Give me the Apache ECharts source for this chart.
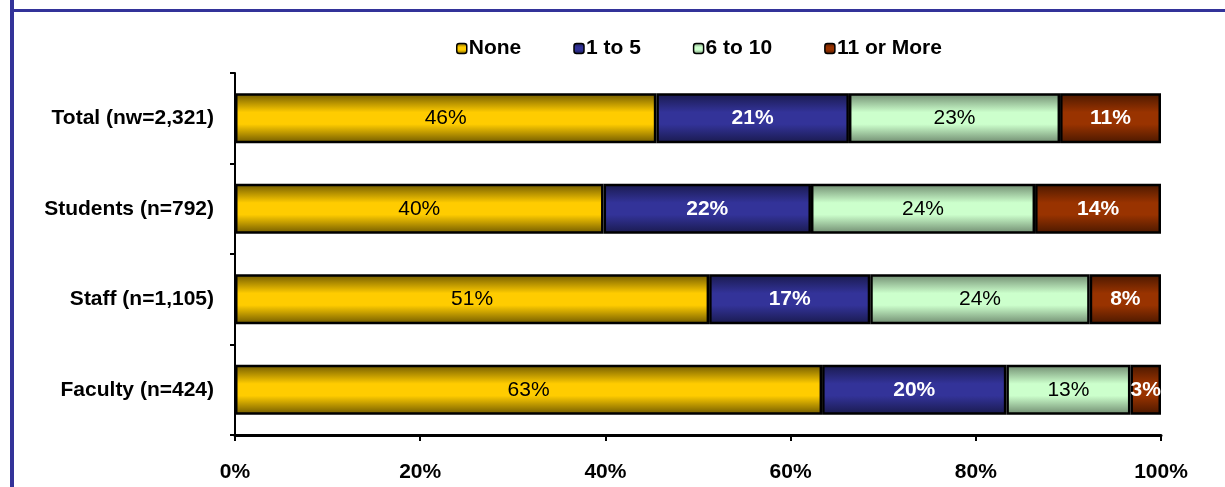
<!DOCTYPE html>
<html>
<head>
<meta charset="utf-8">
<script src="https://cdn.jsdelivr.net/npm/echarts@6/dist/echarts.min.js"></script>
<style>
  html, body { margin: 0; padding: 0; background: #fff; }
  #chart { width: 1225px; height: 487px; }
</style>
</head>
<body>
<div id="chart"></div>
<script>
// groups, top to bottom
const categories = ['Total (nw=2,321)', 'Students (n=792)', 'Staff (n=1,105)', 'Faculty (n=424)'];
// shares in percent
const none = [45.5, 39.8, 51.2, 63.4];
const oneToFive = [20.8, 22.4, 17.4, 19.9];
const sixToTen = [22.8, 24.2, 23.7, 13.4];
const elevenOrMore = [10.9, 13.6, 7.7, 3.3];
const seriesNames = ['None', '1 to 5', '6 to 10', '11 or More'];
const xTicks = [0, 20, 40, 60, 80, 100];

const font = "'Liberation Sans', Arial, sans-serif";

// dark edges, bright middle, like the old office gradient fill
function shade(dark, light){
  return new echarts.graphic.LinearGradient(0, 0, 0, 1, [
    {offset: 0, color: dark},
    {offset: 0.38, color: light},
    {offset: 0.62, color: light},
    {offset: 1, color: dark}
  ]);
}

function makeSeries(name, data, dark, light, textColor, weight){
  return {
    name: name,
    type: 'bar',
    stack: 'all',
    barWidth: '55%',
    data: data,
    itemStyle: {color: shade(dark, light), borderColor: '#000', borderWidth: 2.5},
    label: {
      show: true,
      position: 'inside',
      color: textColor,
      fontFamily: font,
      fontSize: 21,
      fontWeight: weight,
      formatter: p => Math.round(p.value) + '%'
    }
  };
}

const chart = echarts.init(document.getElementById('chart'));
chart.setOption({
  animation: false,
  backgroundColor: '#fff',
  grid: {left: 235, right: 64, top: 73, bottom: 52, outerBoundsMode: 'none'},
  legend: {
    top: 33,
    left: 451,
    itemWidth: 10,
    itemHeight: 10,
    itemGap: 52,
    textStyle: {fontFamily: font, fontWeight: 'bold', fontSize: 21, color: '#000', padding: [0, 0, 0, -3]},
    data: seriesNames.map(n => ({name: n, itemStyle: {borderColor: '#000', borderWidth: 1.5}}))
  },
  xAxis: {
    type: 'value',
    min: 0,
    max: 100,
    interval: 20,
    axisLine: {show: true, lineStyle: {color: '#000', width: 3}},
    axisTick: {show: true, length: 6, lineStyle: {color: '#000', width: 2}},
    splitLine: {show: false},
    axisLabel: {
      margin: 27,
      fontFamily: font,
      fontWeight: 'bold',
      fontSize: 21,
      color: '#000',
      customValues: xTicks,
      formatter: '{value}%'
    }
  },
  yAxis: {
    type: 'category',
    inverse: true,
    data: categories,
    axisLine: {show: true, lineStyle: {color: '#000', width: 2}},
    axisTick: {show: true, length: 5, lineStyle: {color: '#000', width: 2}},
    axisLabel: {margin: 21, fontFamily: font, fontWeight: 'bold', fontSize: 21, color: '#000'}
  },
  series: [
    makeSeries(seriesNames[0], none, '#6e5800', '#ffcc00', '#000', 'normal'),
    makeSeries(seriesNames[1], oneToFive, '#191a4d', '#333399', '#fff', 'bold'),
    makeSeries(seriesNames[2], sixToTen, '#6f8a6f', '#ccffcc', '#000', 'normal'),
    makeSeries(seriesNames[3], elevenOrMore, '#4a1800', '#993300', '#fff', 'bold')
  ],
  graphic: [
    {type: 'rect', shape: {x: 10, y: 0, width: 4, height: 487}, style: {fill: '#333399'}, z: 100},
    {type: 'rect', shape: {x: 10, y: 9, width: 1215, height: 3}, style: {fill: '#333399'}, z: 100}
  ]
});
</script>
</body>
</html>
